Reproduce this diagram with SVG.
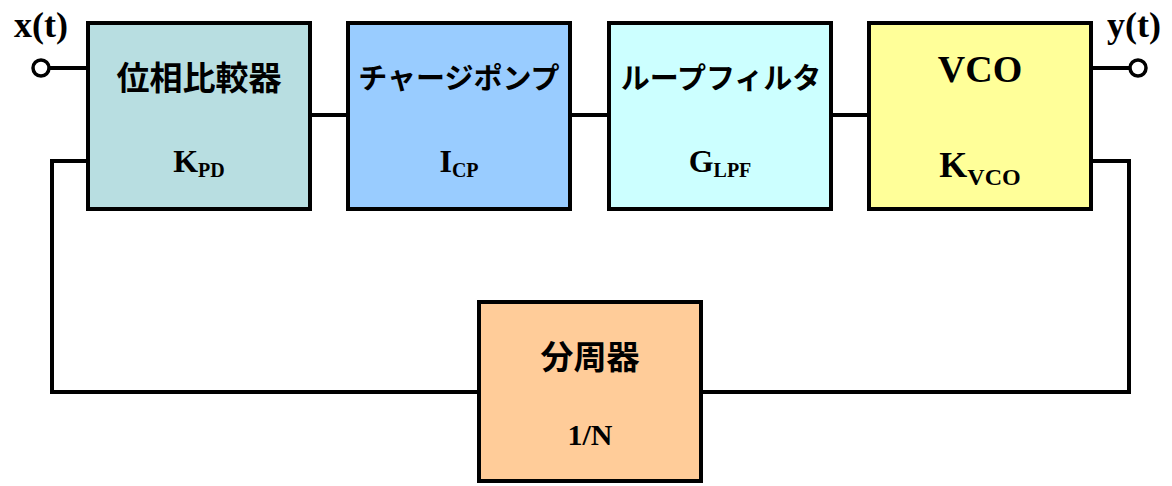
<svg xmlns="http://www.w3.org/2000/svg" width="1172" height="486" viewBox="0 0 1172 486">
<style>
.box{stroke:#000;stroke-width:4}
.wire{fill:none;stroke:#000;stroke-width:4}
.term{fill:#fff;stroke:#000;stroke-width:3.5}
.jp{font-family:"Noto Sans CJK JP","Noto Sans",sans-serif;font-weight:bold;font-size:33px;text-anchor:middle;fill:#000}
.kana{font-size:29px}
.sym{font-family:"Liberation Serif",serif;font-weight:bold;fill:#000}
</style>
<rect width="1172" height="486" fill="#fff"/>
<g id="connectors">
<line class="wire" x1="49" y1="68" x2="88" y2="68"/>
<line class="wire" x1="310" y1="115" x2="348" y2="115"/>
<line class="wire" x1="570" y1="115" x2="609" y2="115"/>
<line class="wire" x1="831" y1="115" x2="869" y2="115"/>
<line class="wire" x1="1091" y1="68" x2="1130" y2="68"/>
<polyline class="wire" points="1091,161 1129,161 1129,392 701,392"/>
<polyline class="wire" points="479,392 52,392 52,161 88,161"/>
<circle class="term" cx="41" cy="68" r="8"/>
<circle class="term" cx="1138" cy="68" r="8"/>
</g>
<g id="label-x">
<text class="sym" x="41" y="37" font-size="36" text-anchor="middle">x(t)</text>
</g>
<g id="label-y">
<text class="sym" x="1134" y="37" font-size="36" text-anchor="middle">y(t)</text>
</g>
<g id="phase-comparator">
<rect class="box" x="88" y="23" width="222" height="186" fill="#B8DEE1"/>
<text class="jp" x="199" y="90">位相比較器</text>
<text class="sym" x="199" y="172" font-size="32" text-anchor="middle">K<tspan font-size="20" dy="5">PD</tspan></text>
</g>
<g id="charge-pump">
<rect class="box" x="348" y="23" width="222" height="186" fill="#99CCFF"/>
<text class="jp kana" x="459" y="89">チャージポンプ</text>
<text class="sym" x="459" y="172" font-size="32" text-anchor="middle">I<tspan font-size="20" dy="5">CP</tspan></text>
</g>
<g id="loop-filter">
<rect class="box" x="609" y="23" width="222" height="186" fill="#CCFFFF"/>
<text class="jp kana" x="721" y="89" font-size="28">ループフィルタ</text>
<text class="sym" x="720" y="172" font-size="32" text-anchor="middle">G<tspan font-size="20" dy="5">LPF</tspan></text>
</g>
<g id="vco">
<rect class="box" x="869" y="23" width="222" height="186" fill="#FFFF99"/>
<text class="sym" x="980" y="82" font-size="38" text-anchor="middle">VCO</text>
<text class="sym" x="980" y="177" font-size="36" text-anchor="middle">K<tspan font-size="24" dy="8">VCO</tspan></text>
</g>
<g id="divider">
<rect class="box" x="479" y="302" width="222" height="179" fill="#FFCC99"/>
<text class="jp" x="590" y="369" font-size="32">分周器</text>
<text class="sym" x="590" y="445" font-size="30" text-anchor="middle">1/N</text>
</g>
</svg>
